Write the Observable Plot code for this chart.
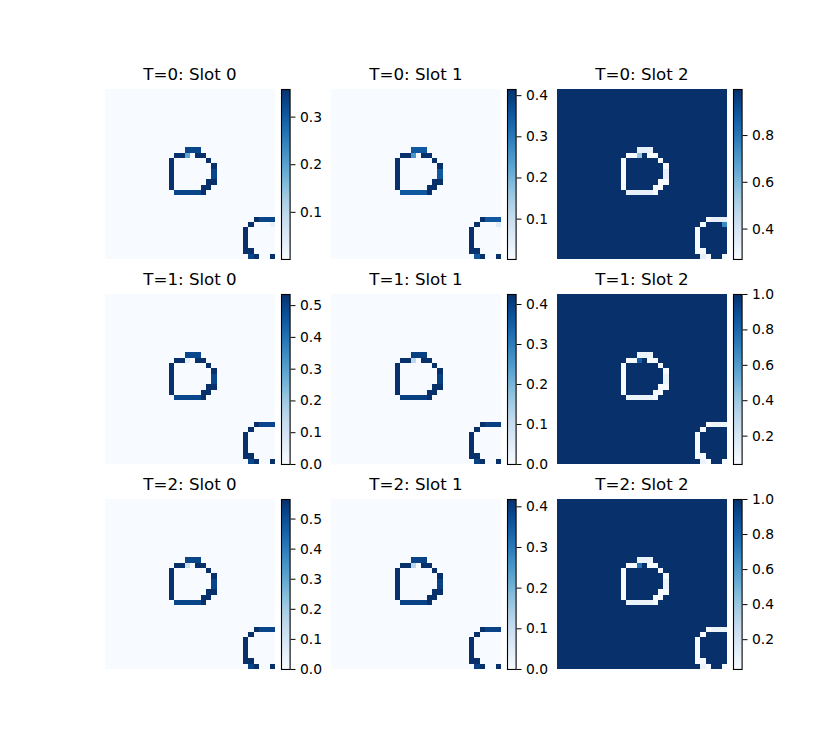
<!DOCTYPE html>
<html><head><meta charset="utf-8">
<script src="https://cdn.jsdelivr.net/npm/d3@7"></script>
<script src="https://cdn.jsdelivr.net/npm/@observablehq/plot@0.6"></script>
<style>
body{margin:0;background:#fff;}
#fig{position:relative;width:825px;height:750px;background:#fff;font-family:"DejaVu Sans",sans-serif;overflow:hidden;}
.title{position:absolute;width:220px;text-align:center;font-size:16.67px;line-height:16.67px;color:#000;white-space:nowrap;}
.panel{position:absolute;}
.panel svg{overflow:visible;}
</style></head><body><div id="fig"></div>
<script>
// ---------------- data ----------------
const times = [0, 1, 2];
const slots = [0, 1, 2];
const gridSize = 32;

// ring outline cells [row, col]
const ringCells = [
  [12,13],[12,14],[12,17],[12,18],[13,12],[13,19],[14,12],[14,20],[15,12],[16,12],
  [17,12],[17,19],[17,20],[18,12],[18,18],[18,19],[19,18],
  [24,28],[25,27],[26,26],[27,26],[28,26],[29,26],[30,26],[30,27],[31,28],[31,31]
];
// ring cells with slightly different intensity
const altCells = [
  [11,15],[11,16],[11,17],[15,20],[16,20],[19,13],[19,14],[19,15],[19,16],[19,17],
  [24,29],[24,30],[24,31],[31,27]
];
const spotCells = [[12,15]];
const faintCells = [[25,31]];

// per panel (T=0 slot0, slot1, slot2, T=1 ..., T=2 ...)
const bgValues    = [0.001, 0.002, 0.997, 0.0, 0.0, 1.0, 0.0, 0.0, 1.0];
const ringValues  = [0.358, 0.415, 0.27, 0.535, 0.425, 0.04, 0.565, 0.418, 0.03];
const altValues   = [0.33, 0.35, 0.33, 0.49, 0.40, 0.10, 0.52, 0.39, 0.09];
const spotValues  = [0.19, 0.25, 0.55, 0.05, 0.12, 0.83, 0.12, 0.12, 0.76];
const faintValues = [0.03, 0.05, 0.75, 0.0, 0.0, 0.99, 0.0, 0.0, 0.99];

const tickValues = [
  [0.1, 0.2, 0.3], [0.1, 0.2, 0.3, 0.4], [0.4, 0.6, 0.8],
  [0.0, 0.1, 0.2, 0.3, 0.4, 0.5], [0.0, 0.1, 0.2, 0.3, 0.4], [0.2, 0.4, 0.6, 0.8, 1.0],
  [0.0, 0.1, 0.2, 0.3, 0.4, 0.5], [0.0, 0.1, 0.2, 0.3, 0.4], [0.2, 0.4, 0.6, 0.8, 1.0]
];

// ---------------- layout ----------------
const colLefts = [105, 331, 557];
const rowTops = [89, 294, 499];
const imgSize = 170;
const cbGap = 6, cbWidth = 8.6;
const font = '"DejaVu Sans", sans-serif';

const kindMap = new Map();
for (const [r, c] of ringCells) kindMap.set(r * gridSize + c, "ring");
for (const [r, c] of altCells) kindMap.set(r * gridSize + c, "alt");
for (const [r, c] of spotCells) kindMap.set(r * gridSize + c, "spot");
for (const [r, c] of faintCells) kindMap.set(r * gridSize + c, "faint");
const valueTables = {bg: bgValues, ring: ringValues, alt: altValues, spot: spotValues, faint: faintValues};

const fig = document.getElementById("fig");

times.forEach((t, ti) => {
  slots.forEach((s, si) => {
    const p = ti * 3 + si;
    const cells = [];
    for (let r = 0; r < gridSize; r++) for (let c = 0; c < gridSize; c++) {
      const kind = kindMap.get(r * gridSize + c) || "bg";
      cells.push({r, c, v: valueTables[kind][p]});
    }
    const [lo, hi] = d3.extent(cells, d => d.v);
    const color = {type: "linear", scheme: "blues", domain: [lo, hi]};
    const left = colLefts[si], top = rowTops[ti];

    // heatmap
    const heat = Plot.plot({
      width: imgSize, height: imgSize, margin: 0,
      x: {type: "band", domain: d3.range(gridSize), padding: 0, round: false, axis: null},
      y: {type: "band", domain: d3.range(gridSize), padding: 0, round: false, axis: null},
      color,
      style: {background: "transparent"},
      marks: [Plot.cell(cells, {x: "c", y: "r", fill: "v", shapeRendering: "crispEdges"})]
    });
    const hd = document.createElement("div");
    hd.className = "panel";
    hd.style.left = left + "px"; hd.style.top = top + "px";
    hd.appendChild(heat);
    fig.appendChild(hd);

    // title
    const td = document.createElement("div");
    td.className = "title";
    td.textContent = `T=${t}: Slot ${s}`;
    td.style.left = (left + imgSize / 2 - 110) + "px";
    td.style.top = (top - 8.3 - 14.1) + "px";
    fig.appendChild(td);

    // colorbar
    const N = 200;
    const steps = d3.range(N).map(i => ({a: lo + (hi - lo) * i / N, b: lo + (hi - lo) * (i + 1) / N}));
    const mTop = 10, mBot = 10, mLeft = 1, mRight = 50;
    const cb = Plot.plot({
      width: mLeft + cbWidth + mRight, height: imgSize + mTop + mBot,
      marginLeft: mLeft, marginRight: mRight, marginTop: mTop, marginBottom: mBot,
      x: {domain: [0, 1], axis: null},
      y: {domain: [lo, hi], axis: "right", ticks: tickValues[p], tickSize: 4.9, tickPadding: 4.9,
          tickFormat: d3.format(".1f"), label: null},
      color,
      style: {background: "transparent", fontSize: "13.9px", fontFamily: font, color: "black"},
      marks: [
        Plot.rect(steps, {x1: 0, x2: 1, y1: "a", y2: "b", fill: d => (d.a + d.b) / 2, shapeRendering: "crispEdges"}),
        Plot.frame({stroke: "black", strokeWidth: 1.1})
      ]
    });
    const cd = document.createElement("div");
    cd.className = "panel";
    cd.style.left = (left + imgSize + cbGap - mLeft) + "px";
    cd.style.top = (top - mTop) + "px";
    cd.appendChild(cb);
    fig.appendChild(cd);
  });
});
</script>
</body></html>
